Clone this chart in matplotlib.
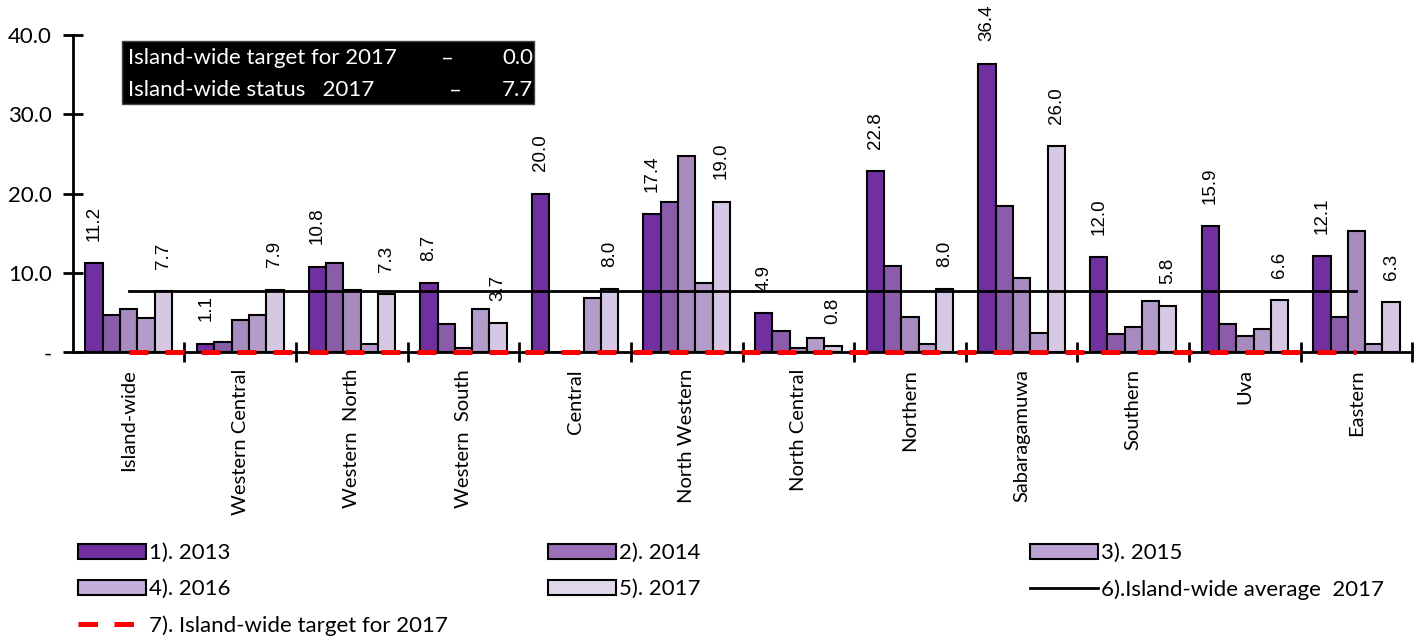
import numpy as np
import matplotlib.pyplot as plt
import matplotlib.transforms as mtransforms
from matplotlib.patches import Patch, Rectangle
from matplotlib.lines import Line2D

# provinces and yearly rates
regions = ['Island-wide', 'Western Central', 'Western  North', 'Western  South',
           'Central', 'North Western', 'North Central', 'Northern',
           'Sabaragamuwa', 'Southern', 'Uva', 'Eastern']
years = ['1). 2013', '2). 2014', '3). 2015', '4). 2016', '5). 2017']
v2013 = [11.2, 1.1, 10.8, 8.7, 20.0, 17.4, 4.9, 22.8, 36.4, 12.0, 15.9, 12.1]
v2014 = [4.7, 1.3, 11.2, 3.6, 0.0, 19.0, 2.7, 10.9, 18.4, 2.3, 3.6, 4.5]
v2015 = [5.4, 4.1, 7.9, 0.5, 0.0, 24.8, 0.5, 4.4, 9.4, 3.2, 2.1, 15.3]
v2016 = [4.3, 4.7, 1.1, 5.5, 6.9, 8.7, 1.8, 1.1, 2.4, 6.5, 2.9, 1.05]
v2017 = [7.7, 7.9, 7.3, 3.7, 8.0, 19.0, 0.8, 8.0, 26.0, 5.8, 6.6, 6.3]
avg_2017 = 7.7
target_2017 = 0.0

colors = ['#7030A0', '#8A5CAA', '#A78ABE', '#B39CCA', '#D6C8E2']
leg_colors = ['#7030A0', '#9B6FBA', '#BCA3D3', '#C4AEDB', '#E2D8EC']

fig = plt.figure(figsize=(14.28, 6.37), dpi=100)
ax = fig.add_axes([0.051, 0.447, 0.938, 0.498])

x = np.arange(len(regions))
w = 0.155
series = [v2013, v2014, v2015, v2016, v2017]
for i, vals in enumerate(series):
    ax.bar(x + (i - 2) * w, vals, width=w, color=colors[i],
           edgecolor='black', linewidth=1.5, zorder=2)

# value labels on the 2013 and 2017 bars
for vals, k in ((v2013, 0), (v2017, 4)):
    for xi, v in zip(x, vals):
        ax.annotate('%.1f' % v, (xi + (k - 2) * w, v), xytext=(0, 16),
                    textcoords='offset points', rotation=90, ha='center',
                    va='bottom', fontsize=13.5, family='Liberation Sans',
                    annotation_clip=False, zorder=7)

ax.plot(x, [avg_2017] * len(x), color='black', lw=2, zorder=3)
ax.plot(x, [target_2017] * len(x), color='#FF0000', lw=3.6,
        dashes=(3.8, 3.4), zorder=4, clip_on=False)

ax.set_xlim(-0.5, 11.5)
ax.set_ylim(0, 40)
ax.set_yticks([0, 10, 20, 30, 40])
ax.set_yticklabels(['-', '10.0', '20.0', '30.0', '40.0'], family='Lato',
                   fontsize=16)
ax.set_xticks(x)
ax.set_xticklabels(regions, rotation=90, family='Lato', fontsize=14.5)
shift = mtransforms.ScaledTranslation(6 / 72, 0, fig.dpi_scale_trans)
for lab in ax.get_xticklabels():
    lab.set_transform(lab.get_transform() + shift)
ax.tick_params(axis='x', length=0, pad=12)
ax.set_xticks(np.arange(0.5, 12, 1), minor=True)
ax.tick_params(axis='x', which='minor', direction='inout', length=14,
               width=2)
ax.tick_params(axis='y', direction='inout', length=14, width=2, pad=8)
for s in ('top', 'right'):
    ax.spines[s].set_visible(False)
for s in ('left', 'bottom'):
    ax.spines[s].set_linewidth(2)

# status box
ax.add_patch(Rectangle((0.0366, 0.782), 0.308, 0.199, transform=ax.transAxes,
                       facecolor='black', edgecolor='#444444', zorder=5))
box_rows = [('Island-wide target for 2017', 0.0, 0.927, 0.2796),
            ('Island-wide status   2017', avg_2017, 0.826, 0.2856)]
for label, val, yy, dx in box_rows:
    ax.text(0.041, yy, label, transform=ax.transAxes, color='white',
            fontsize=16, family='Lato', va='center', zorder=6)
    ax.text(dx, yy, '–', transform=ax.transAxes, color='white',
            fontsize=16, family='Lato', va='center', ha='center', zorder=6)
    ax.text(0.3435, yy, '%.1f' % val, transform=ax.transAxes, color='white',
            fontsize=16, family='Lato', va='center', ha='right', zorder=6)

handles = [Patch(facecolor=c, edgecolor='black', linewidth=1.5)
           for c in leg_colors]
handles.append(Line2D([], [], color='black', lw=2))
handles.append(Line2D([], [], color='#FF0000', lw=3.6, dashes=(3.9, 3.3)))
labels = years + ['6).Island-wide average  2017', '7). Island-wide target for 2017']

# one legend per column, row-major order across the page
columns = [([0, 3, 6], 78), ([1, 4], 548), ([2, 5], 1030)]
for idx, left in columns:
    leg = fig.legend([handles[i] for i in idx], [labels[i] for i in idx],
                     loc='upper left', bbox_to_anchor=(left / 1428, 1 - 543 / 637),
                     frameon=False, handlelength=3.05, handleheight=0.65,
                     handletextpad=0.15, labelspacing=0.72, borderpad=0,
                     borderaxespad=0, prop={'family': 'Lato', 'size': 16})

fig.savefig('out.png', dpi=100)
